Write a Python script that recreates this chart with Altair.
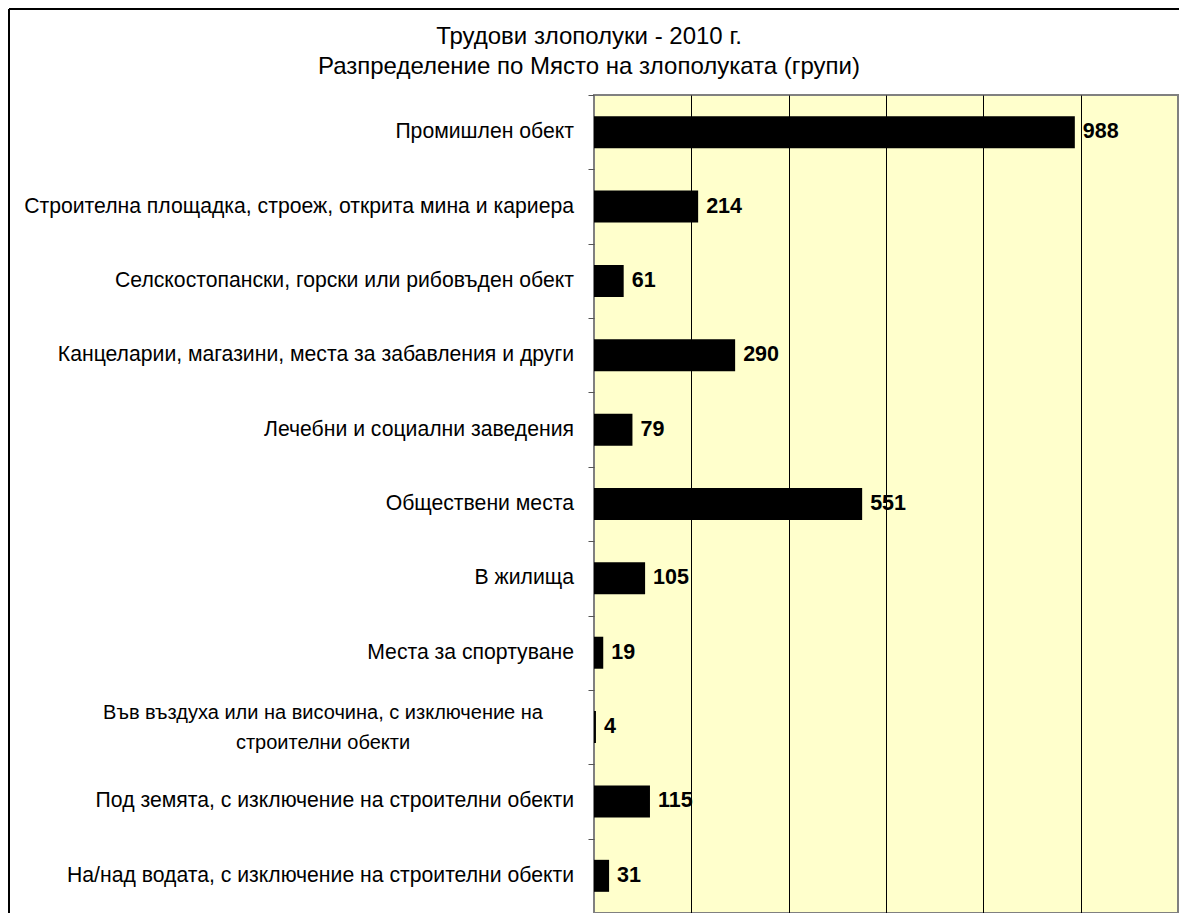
import altair as alt
import pandas as pd

categories = [
    "Промишлен обект",
    "Строителна площадка, строеж, открита мина и кариера",
    "Селскостопански, горски или рибовъден обект",
    "Канцеларии, магазини, места за забавления и други",
    "Лечебни и социални заведения",
    "Обществени места",
    "В жилища",
    "Места за спортуване",
    "Във въздуха или на височина, с изключение на строителни обекти",
    "Под земята, с изключение на строителни обекти",
    "На/над водата, с изключение на строителни обекти",
]
display_labels = [
    "Промишлен обект",
    "Строителна площадка, строеж, открита мина и кариера",
    "Селскостопански, горски или рибовъден обект",
    "Канцеларии, магазини, места за забавления и други",
    "Лечебни и социални заведения",
    "Обществени места",
    "В жилища",
    "Места за спортуване",
    "Във въздуха или на височина, с изключение на\nстроителни обекти",
    "Под земята, с изключение на строителни обекти",
    "На/над водата, с изключение на строителни обекти",
]
values = [988, 214, 61, 290, 79, 551, 105, 19, 4, 115, 31]
x_domain = [0, 1200]
x_grid_values = [200, 400, 600, 800, 1000]
title_lines = ["Трудови злополуки - 2010 г.", "Разпределение по Място на злополуката (групи)"]

df = pd.DataFrame({"cat": categories, "label": display_labels, "value": values})
df["wrapped"] = df["label"].str.contains("\n")

FONT = "Liberation Sans"
W, H = 584, 818

y_enc = alt.Y(
    "cat:N",
    sort=categories,
    scale=alt.Scale(paddingInner=0, paddingOuter=0),
    axis=alt.Axis(labels=False, tickBand="extent", ticks=True, tickSize=6,
                  tickColor="#555555", tickWidth=1, domain=False, grid=False, title=None),
)
x_enc = alt.X(
    "value:Q",
    scale=alt.Scale(domain=x_domain, nice=False, zero=True),
    axis=alt.Axis(values=x_grid_values, labels=False, ticks=False, domain=False,
                  grid=True, gridColor="#000000", gridWidth=1, gridOpacity=1, title=None),
)

base = alt.Chart(df)

bars = base.mark_bar(color="#000000", size=32).encode(x=x_enc, y=y_enc)

value_text = base.mark_text(
    align="left", baseline="middle", dx=8, font=FONT, fontSize=21.5,
    fontWeight="bold", color="#000000",
).encode(x="value:Q", y=alt.Y("cat:N", sort=categories), text="value:Q")

cat_single = base.transform_filter("!datum.wrapped").mark_text(
    align="right", baseline="middle", font=FONT, fontSize=21.2, color="#000000",
).encode(x=alt.value(-20), y=alt.Y("cat:N", sort=categories), text="label:N")

cat_wrapped = base.transform_filter("datum.wrapped").mark_text(
    align="center", baseline="middle", font=FONT, fontSize=20, color="#000000",
    lineBreak="\n", lineHeight=30, dy=-14,
).encode(x=alt.value(-271), y=alt.Y("cat:N", sort=categories), text="label:N")

frame_df = pd.DataFrame({"frame": [0]})
frame_top = alt.Chart(frame_df).mark_rule(color="#000000", strokeWidth=2).encode(
    x=alt.value(-585), x2=alt.value(W + 20), y=alt.value(-86)
)
frame_left = alt.Chart(frame_df).mark_rule(color="#000000", strokeWidth=2).encode(
    x=alt.value(-585), y=alt.value(-86), y2=alt.value(H + 20)
)

chart = alt.layer(frame_top, frame_left, bars, value_text, cat_single, cat_wrapped).properties(
    width=W,
    height=H,
    autosize=alt.AutoSizeParams(type="none"),
    padding={"left": 586, "top": 87, "right": 1, "bottom": 0},
    background="#FFFFFF",
    title=alt.TitleParams(
        text=title_lines, font=FONT, fontSize=24, fontWeight="normal", color="#000000",
        anchor="middle", dx=-297, dy=93, lineHeight=30, offset=22,
    ),
).configure_view(stroke="#808080", strokeWidth=2, fill="#FFFFCC")

chart.save("out.html", embed_options={"renderer": "svg", "actions": False})
